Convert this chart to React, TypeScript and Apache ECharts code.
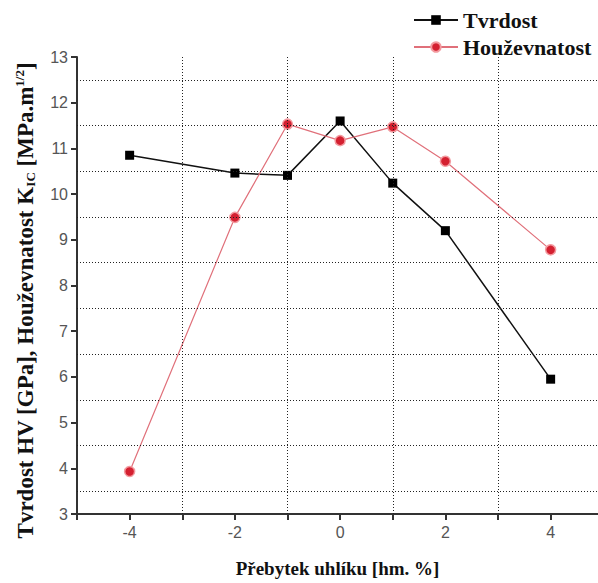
import React, { useEffect, useRef } from "react";
import * as echarts from "echarts";

const xValues = [-4, -2, -1, 0, 1, 2, 4];
const tvrdost = [10.85, 10.46, 10.41, 11.6, 10.24, 9.2, 5.95];
const houzevnatost = [3.93, 9.49, 11.53, 11.17, 11.47, 10.72, 8.78];
const gridX = [-3, -1, 1, 3];
const gridY = [3.5, 4.5, 5.5, 6.5, 7.5, 8.5, 9.5, 10.5, 11.5, 12.5];
const seriesNames = ["Tvrdost", "Houževnatost"];
const xTitle = "Přebytek uhlíku [hm. %]";

export default function App() {
  const ref = useRef<HTMLDivElement>(null);
  useEffect(() => {
    if (!ref.current) return;
    const chart = echarts.init(ref.current, null, { renderer: "svg" });
    const serif = "'Liberation Serif', 'DejaVu Serif', serif";
    const sans = "'Liberation Sans', Arial, sans-serif";
    chart.setOption({
      animation: false,
      backgroundColor: "#ffffff",
      grid: { left: 77, right: 0, top: 57, bottom: 62 },
      legend: {
        data: seriesNames,
        orient: "vertical",
        left: 408,
        top: 4,
        itemWidth: 44,
        itemHeight: 12,
        itemGap: 5,
        textStyle: { fontFamily: serif, fontWeight: "bold", fontSize: 22, color: "#111" },
      },
      xAxis: {
        type: "value",
        min: -5,
        max: 4.9,
        interval: 1,
        name: xTitle,
        nameLocation: "middle",
        nameGap: 45,
        nameTextStyle: { fontFamily: serif, fontWeight: "bold", fontSize: 19, color: "#111" },
        axisLine: { onZero: false, lineStyle: { color: "#333", width: 2 } },
        axisTick: { show: true, length: 6, lineStyle: { color: "#333", width: 2 } },
        axisLabel: {
          fontFamily: sans,
          fontSize: 16,
          color: "#555",
          margin: 10,
          showMaxLabel: false,
          formatter: (v: number) => (Math.round(v) % 2 === 0 ? String(v) : ""),
        },
        splitLine: { show: false },
      },
      yAxis: {
        type: "value",
        min: 3,
        max: 13,
        interval: 1,
        name: "{n|Tvrdost HV [GPa], Houževnatost K}{sub|IC}{n| [MPa.m}{sup|1/2}{n|]}",
        nameLocation: "middle",
        nameGap: 40,
        nameTextStyle: {
          fontFamily: serif,
          fontWeight: "bold",
          fontSize: 23,
          color: "#111",
          padding: [0, 30, 0, 0],
          rich: {
            n: { fontFamily: serif, fontWeight: "bold", fontSize: 23, color: "#111" },
            sub: { fontFamily: serif, fontWeight: "bold", fontSize: 13, color: "#111", padding: [11, 0, 0, 0] },
            sup: { fontFamily: serif, fontWeight: "bold", fontSize: 13, color: "#111", padding: [0, 0, 11, 0] },
          },
        },
        axisLine: { show: true, onZero: false, lineStyle: { color: "#333", width: 2 } },
        axisTick: { show: true, length: 6, lineStyle: { color: "#333", width: 2 } },
        axisLabel: { fontFamily: sans, fontSize: 16, color: "#555", margin: 9 },
        splitLine: { show: false },
      },
      series: [
        {
          name: "grid",
          type: "line",
          data: [],
          z: 1,
          silent: true,
          markLine: {
            silent: true,
            symbol: "none",
            label: { show: false },
            lineStyle: { color: "#222", type: [1, 2], width: 1 },
            data: [
              ...gridX.map((v) => ({ xAxis: v })),
              ...gridY.map((v) => ({ yAxis: v })),
            ],
          },
        },
        {
          name: seriesNames[0],
          type: "line",
          z: 3,
          data: xValues.map((x, i) => [x, tvrdost[i]]),
          symbol: "rect",
          symbolSize: 9,
          itemStyle: { color: "#000" },
          lineStyle: { color: "#111", width: 1.5 },
        },
        {
          name: seriesNames[1],
          type: "line",
          z: 4,
          data: xValues.map((x, i) => [x, houzevnatost[i]]),
          symbol: "circle",
          symbolSize: 10,
          itemStyle: { color: "#d42030", borderColor: "#f39a9f", borderWidth: 1.5 },
          lineStyle: { color: "#e0707a", width: 1.2 },
        },
      ],
    });
    return () => chart.dispose();
  }, []);
  return (
    <div
      ref={ref}
      style={{ position: "fixed", left: 0, top: 0, width: 598, height: 583, background: "#fff" }}
    />
  );
}
